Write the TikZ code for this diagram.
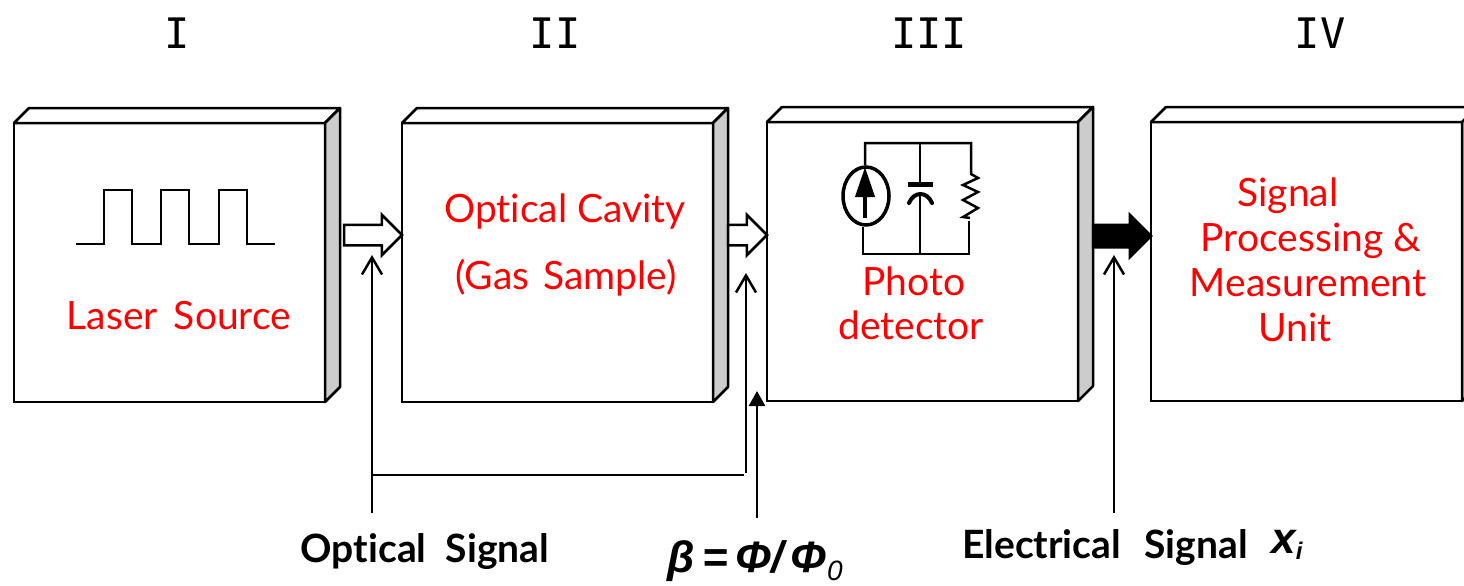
\documentclass[tikz,border=0pt]{standalone}
\usepackage{fontspec}
\setmainfont[Ligatures=NoCommon]{Lato}
\newfontfamily\headfont{DejaVu Sans Mono}
\newfontfamily\symfont{Liberation Sans}
\usetikzlibrary{arrows.meta,shapes.arrows,shapes.geometric}

\tikzset{
  block/.style = {draw,fill=white,shape = rectangle,line width=2.5pt,outer sep=0pt,minimum width=311pt,minimum height=279pt},
  face/.style = {draw,line width=2.5pt,line join=round},
  stage/.style = {font=\headfont\fontsize{42}{46}\selectfont},
  inbox/.style = {text=red,font=\fontsize{39}{43}\selectfont},
  tag/.style = {font=\bfseries\fontsize{39}{43}\selectfont},
  flow/.style = {draw,shape = single arrow,anchor=tip,line width=2.5pt,outer sep=0pt,inner xsep=0pt,inner ysep=9pt,minimum height=58pt,minimum width=38pt,single arrow head extend=10pt,single arrow tip angle=90},
  barb/.style = {line width=2.5pt,-{Straight Barb[length=17pt,width=20pt,line width=2.5pt]}},
  wire/.style = {line width=2.5pt,line join=miter}
}

\begin{document}
\begin{tikzpicture}[x=1pt,y=-1pt]

\path[use as bounding box,clip] (0,0) rectangle (1464,586);

\node[stage] (stage1) at (177,33) {I};
\node[stage] (stage2) at (555,33) {II};
\node[stage] (stage3) at (929,33) {III};
\node[stage] (stage4) at (1320,33) {IV};

\node[block] (laser) at (169.5,262.5) {};
\node[block] (cavity) at (557.5,262.5) {};
\node[block] (photo) at (922.5,261.5) {};
\node[block] (unit) at (1306.5,261.5) {};

\foreach \b in {laser,cavity,photo,unit} {
  \draw[face,fill=white] (\b.north west) -- ++(15,-15) -- ++(311,0) -- (\b.north east) -- cycle;
  \draw[face,fill=black!20] (\b.north east) -- ++(15,-15) -- ++(0,279) -- (\b.south east) -- cycle;
}

\node[flow,fill=white] (optical1) at (402,235) {};
\node[flow,fill=white,minimum height=39pt] (optical2) at (767,235) {};
\node[flow,fill=black,inner ysep=10pt,minimum width=40pt] (electrical) at (1151,236) {};

\draw[wire] (76,244) -- (104,244) -- (104,190) -- (132,190) -- (132,244) -- (161,244) -- (161,190) -- (189,190) -- (189,244) -- (219,244) -- (219,190) -- (247,190) -- (247,244) -- (275,244);

\node[inbox] (lasertext) at (179,316) {Laser\hspace{6pt} Source};
\node[inbox] (cavitytext1) at (565,211) {Optical Cavity};
\node[inbox] (cavitytext2) at (566,278) {(Gas\hspace{4pt} Sample)};
\node[inbox] (phototext1) at (914,281) {Photo};
\node[inbox] (phototext2) at (911,325) {detector};
\node[inbox] (unittext1) at (1288,196) {Signal};
\node[inbox] (unittext2) at (1311,241) {Processing \&};
\node[inbox] (unittext3) at (1308,283) {Measurement};
\node[inbox] (unittext4) at (1295,327) {Unit};

\node[draw,shape = ellipse,line width=3.5pt,minimum width=46pt,minimum height=58pt,inner sep=0pt] (source) at (866,196) {};
\coordinate (topleft) at (865,143);
\coordinate (bottomleft) at (863,254);
\draw[wire] (source.north -| topleft) -- (topleft) -- (971,143) -- (971,174) -- (978,178) -- (963,185) -- (978,192) -- (963,200) -- (978,208) -- (963,217) -- (970,218);
\draw[wire] (source.south -| bottomleft) -- (bottomleft) -- (969,254) -- (969,221);
\draw[wire] (920,143) -- (920,182);
\draw[wire] (920,192) -- (920,254);
\draw[line width=5pt] (908,184.5) -- (933,184.5);
\draw[line width=4pt,line cap=round] (909,203) .. controls (914,191) and (927,191) .. (932,203);
\draw[line width=4pt,-{Triangle[length=30pt,width=19pt]}] (865,218) -- (865,167);

\coordinate (opticalfoot) at (372,513);
\coordinate (opticaltip) at (372,255);
\coordinate (branchstart) at (372,475);
\coordinate (branchend) at (744,475);
\coordinate (branchfoot) at (746,473);
\coordinate (branchtip) at (746,273);
\coordinate (betafoot) at (757,518);
\coordinate (betatip) at (757,391);
\coordinate (electricalfoot) at (1114,513);
\coordinate (electricaltip) at (1114,255);

\path[barb] (opticalfoot) edge (opticaltip);
\path[line width=2.5pt] (branchstart) edge (branchend);
\path[barb] (branchfoot) edge (branchtip);
\path[line width=2.5pt,-{Triangle[length=15pt,width=16pt]}] (betafoot) edge (betatip);
\path[barb] (electricalfoot) edge (electricaltip);

\node[tag] (opticallabel) at (425,552) {Optical\hspace{10pt} Signal};
\node[tag] (electricallabel) at (1105,548) {Electrical\hspace{14pt} Signal};
\node[font=\symfont\itshape\bfseries\fontsize{44}{48}\selectfont] (xlabel) at (1287,545) {x\raisebox{-6pt}{\fontsize{24}{26}\selectfont i}};
\node[font=\symfont\itshape\bfseries\fontsize{44}{48}\selectfont] (betalabel) at (755,561) {β\,=\,Φ/\,Φ\raisebox{-8pt}{\fontsize{28}{30}\selectfont\mdseries 0}};

\end{tikzpicture}
\end{document}
